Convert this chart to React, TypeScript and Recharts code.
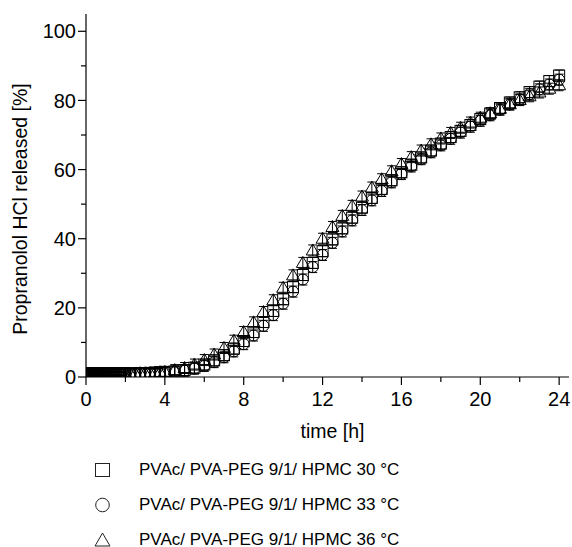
import React from 'react';
import { ScatterChart, Scatter, XAxis, YAxis, Label } from 'recharts';

// time points [h]
const times = [
  0, 0.1, 0.2, 0.3, 0.4, 0.5, 0.6, 0.7, 0.8, 0.9, 1.0, 1.1, 1.2, 1.3, 1.4, 1.5, 1.6, 1.7, 1.8, 1.9, 2.0,
  2.25, 2.5, 2.75, 3, 3.25, 3.5, 3.75, 4,
  4.5, 5, 5.5, 6, 6.5, 7, 7.5, 8, 8.5, 9, 9.5, 10, 10.5, 11, 11.5, 12, 12.5, 13, 13.5, 14,
  14.5, 15, 15.5, 16, 16.5, 17, 17.5, 18, 18.5, 19, 19.5, 20, 20.5, 21, 21.5, 22, 22.5, 23, 23.5, 24,
];

// Propranolol HCl released [%]
const release30 = [
  1, 1, 1, 1, 1, 1, 1, 1, 1, 1, 1, 1, 1, 1, 1, 1, 1, 1, 1, 1, 1,
  0.9, 1.0, 1.0, 1.0, 1.1, 1.1, 1.2, 1.3,
  1.6, 2.0, 2.7, 3.6, 4.8, 6.3, 8.2, 10.4, 13.0, 15.9, 19.1, 22.5, 26.0, 29.5, 33.0, 36.4, 39.8, 43.0, 46.1, 49.0,
  51.8, 54.4, 56.9, 59.2, 61.4, 63.5, 65.5, 67.5, 69.4, 71.2, 72.9, 74.6, 76.2, 77.8, 79.4, 80.9, 82.4, 84.0, 85.6, 87.2,
];
const release33 = [
  1, 1, 1, 1, 1, 1, 1, 1, 1, 1, 1, 1, 1, 1, 1, 1, 1, 1, 1, 1, 1,
  0.9, 0.9, 1.0, 1.0, 1.0, 1.1, 1.1, 1.2,
  1.4, 1.8, 2.4, 3.2, 4.3, 5.7, 7.4, 9.5, 12.0, 14.8, 17.9, 21.2, 24.7, 28.2, 31.8, 35.3, 38.8, 42.1, 45.3, 48.3,
  51.1, 53.8, 56.3, 58.7, 60.9, 63.0, 65.0, 67.0, 68.9, 70.7, 72.4, 74.1, 75.7, 77.3, 78.8, 80.3, 81.8, 83.2, 84.6, 86.0,
];
const release36 = [
  1, 1, 1, 1, 1, 1, 1, 1, 1, 1, 1, 1, 1, 1, 1, 1, 1, 1, 1, 1, 1,
  1.0, 1.0, 1.1, 1.1, 1.2, 1.3, 1.4, 1.5,
  2.0, 2.6, 3.6, 4.9, 6.5, 8.4, 10.5, 13.0, 15.8, 18.8, 22.2, 25.8, 29.4, 33.0, 36.6, 40.0, 43.4, 46.6, 49.5, 52.2,
  54.8, 57.2, 59.5, 61.6, 63.6, 65.5, 67.3, 69.0, 70.6, 72.1, 73.6, 75.0, 76.3, 77.6, 78.9, 80.1, 81.2, 82.3, 83.4, 84.4,
];

const seriesNames = [
  'PVAc/ PVA-PEG 9/1/ HPMC 30 °C',
  'PVAc/ PVA-PEG 9/1/ HPMC 33 °C',
  'PVAc/ PVA-PEG 9/1/ HPMC 36 °C',
];
const xTicks = [0, 2, 4, 6, 8, 10, 12, 14, 16, 18, 20, 22, 24];
const yTicks = [0, 10, 20, 30, 40, 50, 60, 70, 80, 90, 100];

const FONT = "'Liberation Sans', Arial, sans-serif";

const toData = (vals: number[]) => times.map((t, i) => ({ t, v: vals[i] }));
const data30 = toData(release30);
const data33 = toData(release33);
const data36 = toData(release36);

const errBar = (cx: number, cy: number) => (
  <g stroke="#000" strokeWidth={1}>
    <line x1={cx} x2={cx} y1={cy - 5.5} y2={cy + 5.5} />
    <line x1={cx - 4.5} x2={cx + 4.5} y1={cy - 5.5} y2={cy - 5.5} />
    <line x1={cx - 4.5} x2={cx + 4.5} y1={cy + 5.5} y2={cy + 5.5} />
  </g>
);

const SquareShape = (props: any) => {
  const { cx, cy } = props;
  return (
    <g>
      <rect x={cx - 5.5} y={cy - 5.5} width={11} height={11} fill="none" stroke="#000" strokeWidth={1} />
      {errBar(cx, cy)}
    </g>
  );
};
const CircleShape = (props: any) => {
  const { cx, cy } = props;
  return (
    <g>
      <circle cx={cx} cy={cy} r={5.5} fill="none" stroke="#000" strokeWidth={1} />
      {errBar(cx, cy)}
    </g>
  );
};
const TriangleShape = (props: any) => {
  const { cx, cy } = props;
  return (
    <g>
      <polygon
        points={`${cx},${cy - 6.5} ${cx - 6.5},${cy + 4.5} ${cx + 6.5},${cy + 4.5}`}
        fill="none"
        stroke="#000"
        strokeWidth={1}
      />
      {errBar(cx, cy)}
    </g>
  );
};

const XTick = (props: any) => {
  const { x, y, payload } = props;
  const major = payload.value % 4 === 0;
  return (
    <g>
      <line x1={x} x2={x} y1={y} y2={y + (major ? 8 : 5)} stroke="#000" strokeWidth={1.2} />
      {major && (
        <text x={x} y={y + 28.7} textAnchor="middle" fontSize={20} fontFamily={FONT} fill="#000">
          {payload.value}
        </text>
      )}
    </g>
  );
};

const YTick = (props: any) => {
  const { x, y, payload } = props;
  const major = payload.value % 20 === 0;
  return (
    <g>
      <line x1={x - (major ? 8 : 5)} x2={x} y1={y} y2={y} stroke="#000" strokeWidth={1.2} />
      {major && (
        <text x={x - 10} y={y} dy="0.36em" textAnchor="end" fontSize={20} fontFamily={FONT} fill="#000">
          {payload.value}
        </text>
      )}
    </g>
  );
};

const XTitle = (props: any) => {
  const vb = props.viewBox || { x: 86, y: 377, width: 483, height: 60 };
  return (
    <text x={vb.x + vb.width / 2 + 5} y={vb.y + 61} textAnchor="middle" fontSize={19.5} fontFamily={FONT} fill="#000">
      time [h]
    </text>
  );
};

const YTitle = (props: any) => {
  const vb = props.viewBox || { x: 0, y: 14, width: 86, height: 363 };
  const cx = 27.3;
  const cy = vb.y + vb.height / 2 + 13.5;
  return (
    <text
      x={cx}
      y={cy}
      transform={`rotate(-90, ${cx}, ${cy})`}
      textAnchor="middle"
      fontSize={19.5}
      fontFamily={FONT}
      fill="#000"
    >
      Propranolol HCl released [%]
    </text>
  );
};

const legendSymbols = ['square', 'circle', 'triangle'];

const LegendBox = () => {
  const rows = [470, 505, 540];
  const baselines = [474.5, 509.5, 544.5];
  return (
    <svg width={572} height={547} style={{ position: 'absolute', left: 0, top: 0, pointerEvents: 'none' }}>
      {seriesNames.map((name, i) => {
        const cy = rows[i];
        const cx = 102.5;
        const kind = legendSymbols[i];
        return (
          <g key={name}>
            {kind === 'square' && (
              <rect x={cx - 7} y={cy - 6.5} width={14} height={13} fill="none" stroke="#222" strokeWidth={1} />
            )}
            {kind === 'circle' && <circle cx={cx} cy={cy} r={6.8} fill="none" stroke="#222" strokeWidth={1} />}
            {kind === 'triangle' && (
              <polygon
                points={`${cx},${cy - 7} ${cx - 7.5},${cy + 6} ${cx + 7.5},${cy + 6}`}
                fill="none"
                stroke="#222"
                strokeWidth={1}
              />
            )}
            <text x={139} y={baselines[i]} fontSize={17} fontFamily={FONT} fill="#000">
              {name}
            </text>
          </g>
        );
      })}
    </svg>
  );
};

export default function App() {
  return (
    <div style={{ position: 'absolute', left: 0, top: 0, width: 572, height: 547, background: '#fff' }}>
      <ScatterChart width={572} height={547} margin={{ top: 14, right: 3, left: 0, bottom: 110 }}>
        <XAxis
          type="number"
          dataKey="t"
          domain={[0, 24.5]}
          ticks={xTicks}
          interval={0}
          tickSize={0}
          tickMargin={0}
          tickLine={false}
          tick={<XTick />}
          height={60}
          axisLine={{ stroke: '#000', strokeWidth: 1.2 }}
          allowDataOverflow
        >
          <Label content={<XTitle />} />
        </XAxis>
        <YAxis
          type="number"
          dataKey="v"
          domain={[0, 105]}
          ticks={yTicks}
          interval={0}
          tickSize={0}
          tickMargin={0}
          tickLine={false}
          tick={<YTick />}
          width={86}
          axisLine={{ stroke: '#000', strokeWidth: 1.2 }}
          allowDataOverflow
        >
          <Label content={<YTitle />} />
        </YAxis>
        <Scatter name={seriesNames[0]} data={data30} shape={SquareShape} isAnimationActive={false} />
        <Scatter name={seriesNames[1]} data={data33} shape={CircleShape} isAnimationActive={false} />
        <Scatter name={seriesNames[2]} data={data36} shape={TriangleShape} isAnimationActive={false} />
      </ScatterChart>
      <LegendBox />
    </div>
  );
}
